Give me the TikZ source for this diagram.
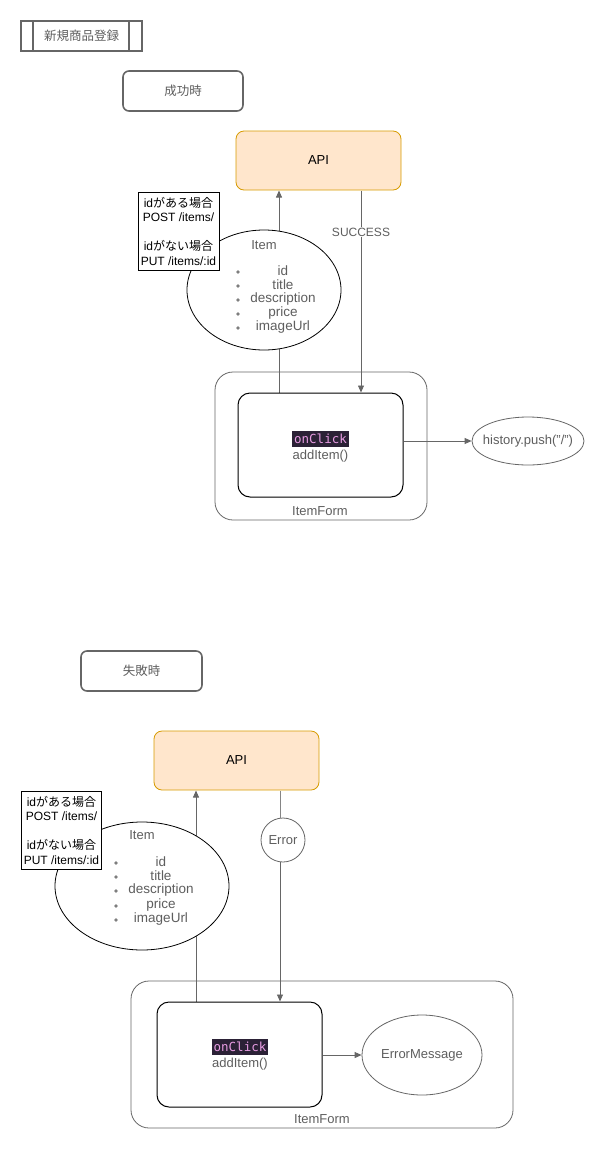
\documentclass[tikz,border=0pt]{standalone}
\usepackage{fontspec}
\setmainfont{Liberation Sans}
\newfontfamily\jp{Noto Sans CJK JP}
\newfontfamily\codefont{DejaVu Sans Mono}
\usetikzlibrary{arrows.meta,shapes.geometric}
\definecolor{linegray}{HTML}{666666}
\definecolor{txtgray}{HTML}{5E5E5E}
\definecolor{apifill}{HTML}{FFE6CC}
\definecolor{apiedge}{HTML}{D79B00}
\definecolor{codebg}{HTML}{2B2136}
\definecolor{codefg}{HTML}{E79BE2}
\begin{document}
\begin{tikzpicture}[x=1pt,y=-1pt,
  every node/.style={font=\fontsize{13}{15}\selectfont, text=txtgray, inner sep=0pt},
  conn/.style={draw=linegray, line width=0.8pt, -{Triangle[length=7pt,width=6pt]}},
  plainline/.style={draw=linegray!80, line width=0.8pt},
  tagbox/.style={draw=linegray, rounded corners=6pt, line width=1.6pt, minimum width=120pt, minimum height=40pt, font=\jp\fontsize{12.5}{15}\selectfont},
  apibox/.style={draw=apiedge, fill=apifill, rounded corners=8pt, line width=0.8pt, minimum width=165pt, minimum height=59pt, text=black},
  notebox/.style={draw=black, fill=white, line width=0.8pt, text=black, align=center, inner sep=2pt, font=\fontsize{12}{14.5}\selectfont},
  itemell/.style={ellipse, draw=black, fill=white, line width=0.8pt},
  formbox/.style={draw=linegray, rounded corners=18pt, line width=0.8pt},
  handler/.style={draw=black, rounded corners=12pt, line width=1pt, fill=white},
  resultell/.style={ellipse, draw=linegray, fill=white, line width=0.8pt},
  codetag/.style={fill=codebg, text=codefg, inner xsep=2pt, inner ysep=3pt, font=\codefont\fontsize{12.5}{14}\selectfont},
  listtxt/.style={font=\fontsize{13.5}{15}\selectfont},
  bulletdot/.style={circle, fill=txtgray!80, minimum size=3.6pt}
]
\useasboundingbox (0,0) rectangle (603,1149);

% ---------- heading ----------
\node[draw=linegray, line width=1.6pt, minimum width=121pt, minimum height=30pt, font=\jp\fontsize{12.5}{15}\selectfont] (title) at (81.5,36) {新規商品登録};
\draw[linegray, line width=1.6pt] (33,21) -- (33,51) (129,21) -- (129,51);

% ---------- success case ----------
\node[tagbox] (okTag) at (183,91) {成功時};
\node[apibox] (api1) at (318.5,160.5) {API};

\coordinate (upStart1) at (279,393);
\coordinate (upEnd1) at (279,190.5);
\draw[conn] (upStart1) -- (upEnd1);

\node[itemell, minimum width=154pt, minimum height=120pt] (item1) at (264,290) {};
\node (item1title) at (264,245) {Item};
\foreach \t/\yy in {id/271, title/285, description/299, price/313, imageUrl/327}{
  \node[listtxt] at (283,\yy) {\t};
  \node[bulletdot] at (238,\yy+1) {};
}
\node[notebox, minimum width=81pt, minimum height=78pt] (note1) at (178.5,231)
  {id{\jp がある場合}\\POST /items/\\[14.5pt]id{\jp がない場合}\\PUT /items/:id};

\node[formbox, minimum width=212pt, minimum height=148pt] (form1) at (321,446) {};
\node (form1lbl) at (320,511) {ItemForm};
\node[handler, minimum width=165pt, minimum height=104pt] (click1) at (320.5,445) {};
\node[codetag] (code1) at (320.5,439) {onClick};
\node (add1) at (320.5,456.5) {addItem()};

\coordinate (succTop) at (361,190.5);
\draw[conn] (succTop) -- (succTop |- click1.north);
\node[fill=white, inner sep=1pt, font=\fontsize{12}{14}\selectfont] (succ) at (361,232) {SUCCESS};

\node[resultell, minimum width=112pt, minimum height=48pt] (hist) at (528,441) {};
\node (histlbl) at (hist.center) {history.push("/")};
\draw[conn] (click1.east |- hist) -- (hist.west);

% ---------- failure case ----------
\node[tagbox, minimum width=121pt] (ngTag) at (141.5,671) {失敗時};
\node[apibox] (api2) at (236.5,760.5) {API};

\coordinate (upStart2) at (196,1002);
\coordinate (upEnd2) at (196,790.5);
\draw[conn] (upStart2) -- (upEnd2);

\node[itemell, minimum width=174pt, minimum height=128pt] (item2) at (142,886) {};
\node (item2title) at (142,835) {Item};
\foreach \t/\yy in {id/862, title/876, description/890, price/905, imageUrl/919}{
  \node[listtxt] at (161,\yy) {\t};
  \node[bulletdot] at (116,\yy+1) {};
}
\node[notebox, minimum width=79pt, minimum height=78pt] (note2) at (61.5,830)
  {id{\jp がある場合}\\POST /items/\\[14.5pt]id{\jp がない場合}\\PUT /items/:id};

\node[formbox, minimum width=382pt, minimum height=147pt] (form2) at (322,1054.5) {};
\node (form2lbl) at (322,1119) {ItemForm};
\node[handler, minimum width=165pt, minimum height=105pt] (click2) at (239.5,1054.5) {};
\node[codetag] (code2) at (240,1047) {onClick};
\node (add2) at (240,1064.5) {addItem()};

\coordinate (errTop) at (280,790.5);
\node[circle, draw=linegray, fill=white, line width=0.8pt, minimum size=44pt] (err) at (283,840) {Error};
\draw[plainline] (errTop) -- (errTop |- err.north);
\draw[conn] (errTop |- err.south) -- (errTop |- click2.north);

\node[resultell, minimum width=120pt, minimum height=80pt] (errMsg) at (422,1055) {};
\node (errMsgLbl) at (errMsg.center) {ErrorMessage};
\draw[conn] (click2.east |- errMsg) -- (errMsg.west);
\end{tikzpicture}
\end{document}
